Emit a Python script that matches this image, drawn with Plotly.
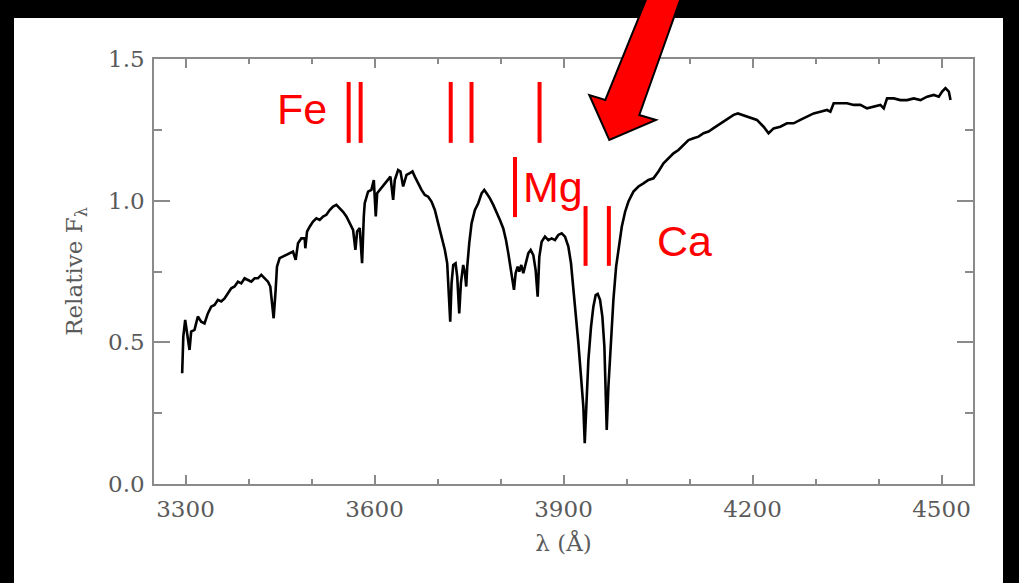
import plotly.graph_objects as go

# ---------------- data ----------------
wavelength = [
    3294.7, 3296.5, 3299.5, 3303.7, 3306.4, 3309.0, 3314.3, 3319.6, 3324.9, 3330.2,
    3335.5, 3340.8, 3346.1, 3351.4, 3356.7, 3362.0, 3367.3, 3372.6, 3377.9, 3383.2,
    3388.5, 3393.8, 3399.1, 3404.4, 3409.7, 3415.0, 3420.3, 3425.6, 3430.9, 3434.6,
    3437.8, 3439.9, 3443.1, 3445.2, 3449.4, 3454.7, 3460.0, 3465.3, 3470.6, 3474.9,
    3478.6, 3483.9, 3489.2, 3490.2, 3492.9, 3497.1, 3502.4, 3507.7, 3513.0, 3518.3,
    3523.6, 3528.9, 3534.2, 3539.5, 3544.8, 3550.1, 3555.4, 3560.7, 3566.0, 3569.7,
    3572.4, 3576.6, 3580.3, 3583.0, 3584.5, 3589.8, 3595.1, 3598.9, 3602.0, 3604.2,
    3608.4, 3613.7, 3617.9, 3621.6, 3625.3, 3629.6, 3632.2, 3637.5, 3641.2, 3645.5,
    3650.8, 3656.1, 3660.3, 3664.0, 3669.3, 3674.6, 3679.9, 3685.2, 3690.5, 3695.8,
    3701.1, 3706.4, 3711.7, 3715.4, 3718.6, 3720.2, 3722.3, 3725.0, 3728.7, 3731.3,
    3734.5, 3737.1, 3740.8, 3743.5, 3745.6, 3747.2, 3750.4, 3754.1, 3759.4, 3764.7,
    3770.0, 3774.2, 3777.9, 3783.2, 3788.5, 3793.8, 3799.1, 3804.4, 3808.7, 3812.4,
    3816.1, 3819.2, 3821.4, 3824.0, 3827.2, 3829.8, 3833.0, 3836.2, 3839.9, 3844.1,
    3847.9, 3852.1, 3855.8, 3859.0, 3861.6, 3865.3, 3870.6, 3875.9, 3881.2, 3886.5,
    3891.8, 3897.1, 3902.4, 3907.7, 3911.9, 3915.6, 3919.3, 3923.6, 3927.8, 3931.5,
    3933.7, 3935.8, 3939.5, 3943.7, 3947.4, 3951.1, 3954.3, 3958.0, 3961.7, 3964.9,
    3967.0, 3968.6, 3971.3, 3975.5, 3979.2, 3983.5, 3988.2, 3992.5, 3997.8, 4003.1,
    4011.0, 4019.0, 4026.9, 4034.8, 4042.8, 4050.7, 4058.7, 4066.6, 4074.6, 4082.5,
    4090.5, 4098.4, 4106.4, 4114.3, 4122.3, 4130.2, 4138.2, 4146.1, 4154.1, 4162.0,
    4170.0, 4176.8, 4183.2, 4191.1, 4199.1, 4207.0, 4217.6, 4225.5, 4233.5, 4244.1,
    4254.7, 4265.3, 4275.9, 4286.5, 4297.1, 4307.7, 4318.3, 4323.6, 4328.9, 4339.4,
    4350.0, 4360.6, 4371.2, 4381.8, 4392.4, 4403.0, 4408.3, 4413.6, 4424.2, 4434.8,
    4445.4, 4456.0, 4466.6, 4477.2, 4487.8, 4495.7, 4501.0, 4506.3, 4511.6, 4514.3,
]
flux = [
    0.391, 0.520, 0.579, 0.520, 0.473, 0.538, 0.544, 0.591, 0.573, 0.567,
    0.602, 0.626, 0.632, 0.650, 0.644, 0.655, 0.673, 0.691, 0.697, 0.714,
    0.708, 0.726, 0.720, 0.714, 0.726, 0.726, 0.738, 0.726, 0.714, 0.697,
    0.638, 0.585, 0.685, 0.767, 0.797, 0.803, 0.808, 0.814, 0.820, 0.791,
    0.850, 0.867, 0.867, 0.832, 0.891, 0.908, 0.926, 0.938, 0.932, 0.944,
    0.950, 0.967, 0.979, 0.985, 0.973, 0.961, 0.944, 0.920, 0.897, 0.826,
    0.891, 0.903, 0.779, 0.944, 0.991, 1.032, 1.038, 1.073, 0.944, 1.026,
    1.038, 1.050, 1.061, 1.073, 1.085, 1.003, 1.073, 1.108, 1.103, 1.050,
    1.091, 1.097, 1.103, 1.085, 1.061, 1.038, 1.020, 1.014, 0.997, 0.967,
    0.920, 0.873, 0.826, 0.779, 0.650, 0.573, 0.708, 0.773, 0.779, 0.732,
    0.602, 0.708, 0.773, 0.744, 0.697, 0.767, 0.850, 0.920, 0.967, 0.991,
    1.026, 1.038, 1.026, 1.008, 0.985, 0.961, 0.932, 0.902, 0.861, 0.814,
    0.755, 0.720, 0.685, 0.744, 0.767, 0.750, 0.773, 0.744, 0.779, 0.814,
    0.826, 0.808, 0.755, 0.661, 0.802, 0.855, 0.873, 0.861, 0.867, 0.861,
    0.879, 0.885, 0.873, 0.838, 0.779, 0.697, 0.602, 0.497, 0.379, 0.273,
    0.144, 0.273, 0.438, 0.555, 0.626, 0.667, 0.671, 0.650, 0.591, 0.485,
    0.344, 0.191, 0.344, 0.508, 0.650, 0.767, 0.850, 0.908, 0.961, 0.997,
    1.032, 1.050, 1.061, 1.073, 1.079, 1.103, 1.132, 1.150, 1.167, 1.179,
    1.197, 1.214, 1.220, 1.226, 1.238, 1.244, 1.256, 1.267, 1.279, 1.291,
    1.303, 1.308, 1.303, 1.297, 1.291, 1.285, 1.261, 1.238, 1.255, 1.261,
    1.273, 1.273, 1.285, 1.297, 1.308, 1.314, 1.320, 1.314, 1.344, 1.344,
    1.344, 1.338, 1.338, 1.326, 1.332, 1.338, 1.326, 1.361, 1.361, 1.355,
    1.355, 1.361, 1.355, 1.367, 1.373, 1.367, 1.385, 1.397, 1.385, 1.355,
]

# line identifications (wavelength of marker, flux range of the marker bar)
fe_marks = [3559, 3578, 3721, 3754, 3862]
fe_range = [1.204, 1.419]
mg_marks = [3823]
mg_range = [0.942, 1.154]
ca_marks = [3935, 3972]
ca_range = [0.770, 0.981]

labels = ["Fe", "Mg", "Ca"]
label_x = [3485, 3883, 4092]
label_y = [1.322, 1.050, 0.858]

x_ticks = [3300, 3600, 3900, 4200, 4500]
y_ticks = [0.0, 0.5, 1.0, 1.5]

# ---------------- layout geometry ----------------
W, H = 1019, 583
ML, MR, MT, MB = 154, 46, 59, 99
PW, PH = W - ML - MR, H - MT - MB


def px(xpix):
    return (xpix - ML) / PW


def py(ypix):
    return (H - MB - ypix) / PH


RED = "#ff0000"
GREY = "#8a8a8a"
TXT = "#5a5a5a"
SERIF = "DejaVu Serif, Liberation Serif, serif"

fig = go.Figure()
fig.add_trace(go.Scatter(
    x=wavelength, y=flux, mode="lines",
    line=dict(color="black", width=2.6),
    hoverinfo="skip", showlegend=False,
))

shapes = []
# white page panel on black background
shapes.append(dict(type="rect", xref="paper", yref="paper",
                   x0=px(14), x1=px(1003), y0=py(800), y1=py(18),
                   fillcolor="white", line=dict(width=0), layer="below"))

for marks, rng in ((fe_marks, fe_range), (mg_marks, mg_range), (ca_marks, ca_range)):
    for m in marks:
        shapes.append(dict(type="line", xref="x", yref="y",
                           x0=m, x1=m, y0=rng[0], y1=rng[1],
                           line=dict(color=RED, width=4)))

# big red arrow (pixel outline converted to paper units)
arrow_px = [(656, -25), (605.3, 100), (589.3, 95), (609.3, 140),
            (656, 120), (639.3, 115), (689, -25)]
path = "M " + " L ".join(f"{px(a):.5f},{py(b):.5f}" for a, b in arrow_px) + " Z"
shapes.append(dict(type="path", xref="paper", yref="paper", path=path,
                   fillcolor=RED, line=dict(color="black", width=2), layer="above"))

annotations = []
for t, xx, yy in zip(labels, label_x, label_y):
    annotations.append(dict(x=xx, y=yy, xref="x", yref="y", text=t, showarrow=False,
                            xanchor="center", yanchor="middle",
                            font=dict(family="Liberation Sans Narrow, Liberation Sans, Arial Narrow, sans-serif",
                                      size=43, color=RED)))

axis_common = dict(
    showline=True, linecolor=GREY, linewidth=1.5, mirror="ticks",
    ticks="inside", tickcolor=GREY, tickwidth=1.5,
    showgrid=False, zeroline=False,
    tickfont=dict(family=SERIF, size=23, color=TXT),
)

fig.update_layout(
    width=W, height=H,
    margin=dict(l=ML, r=MR, t=MT, b=MB, pad=0),
    paper_bgcolor="black", plot_bgcolor="rgba(0,0,0,0)",
    shapes=shapes, annotations=annotations,
    xaxis=dict(range=[3250, 4550], tickvals=x_ticks, ticklen=9,
               minor=dict(dtick=100, tick0=3300, ticks="inside", ticklen=5,
                          tickcolor=GREY, tickwidth=1.5, showgrid=False),
               ticklabelstandoff=4,
               title=dict(text="λ (Å)", font=dict(family=SERIF, size=23, color=TXT), standoff=14),
               **axis_common),
    yaxis=dict(range=[0, 1.5], tickvals=y_ticks, ticktext=["0.0", "0.5", "1.0", "1.5"],
               ticklen=16,
               minor=dict(dtick=0.25, tick0=0, ticks="inside", ticklen=8,
                          tickcolor=GREY, tickwidth=1.5, showgrid=False),
               ticklabelstandoff=3,
               title=dict(text="Relative F<sub>λ</sub>", font=dict(family=SERIF, size=23, color=TXT), standoff=19),
               **axis_common),
)

fig.write_html("out.html")
